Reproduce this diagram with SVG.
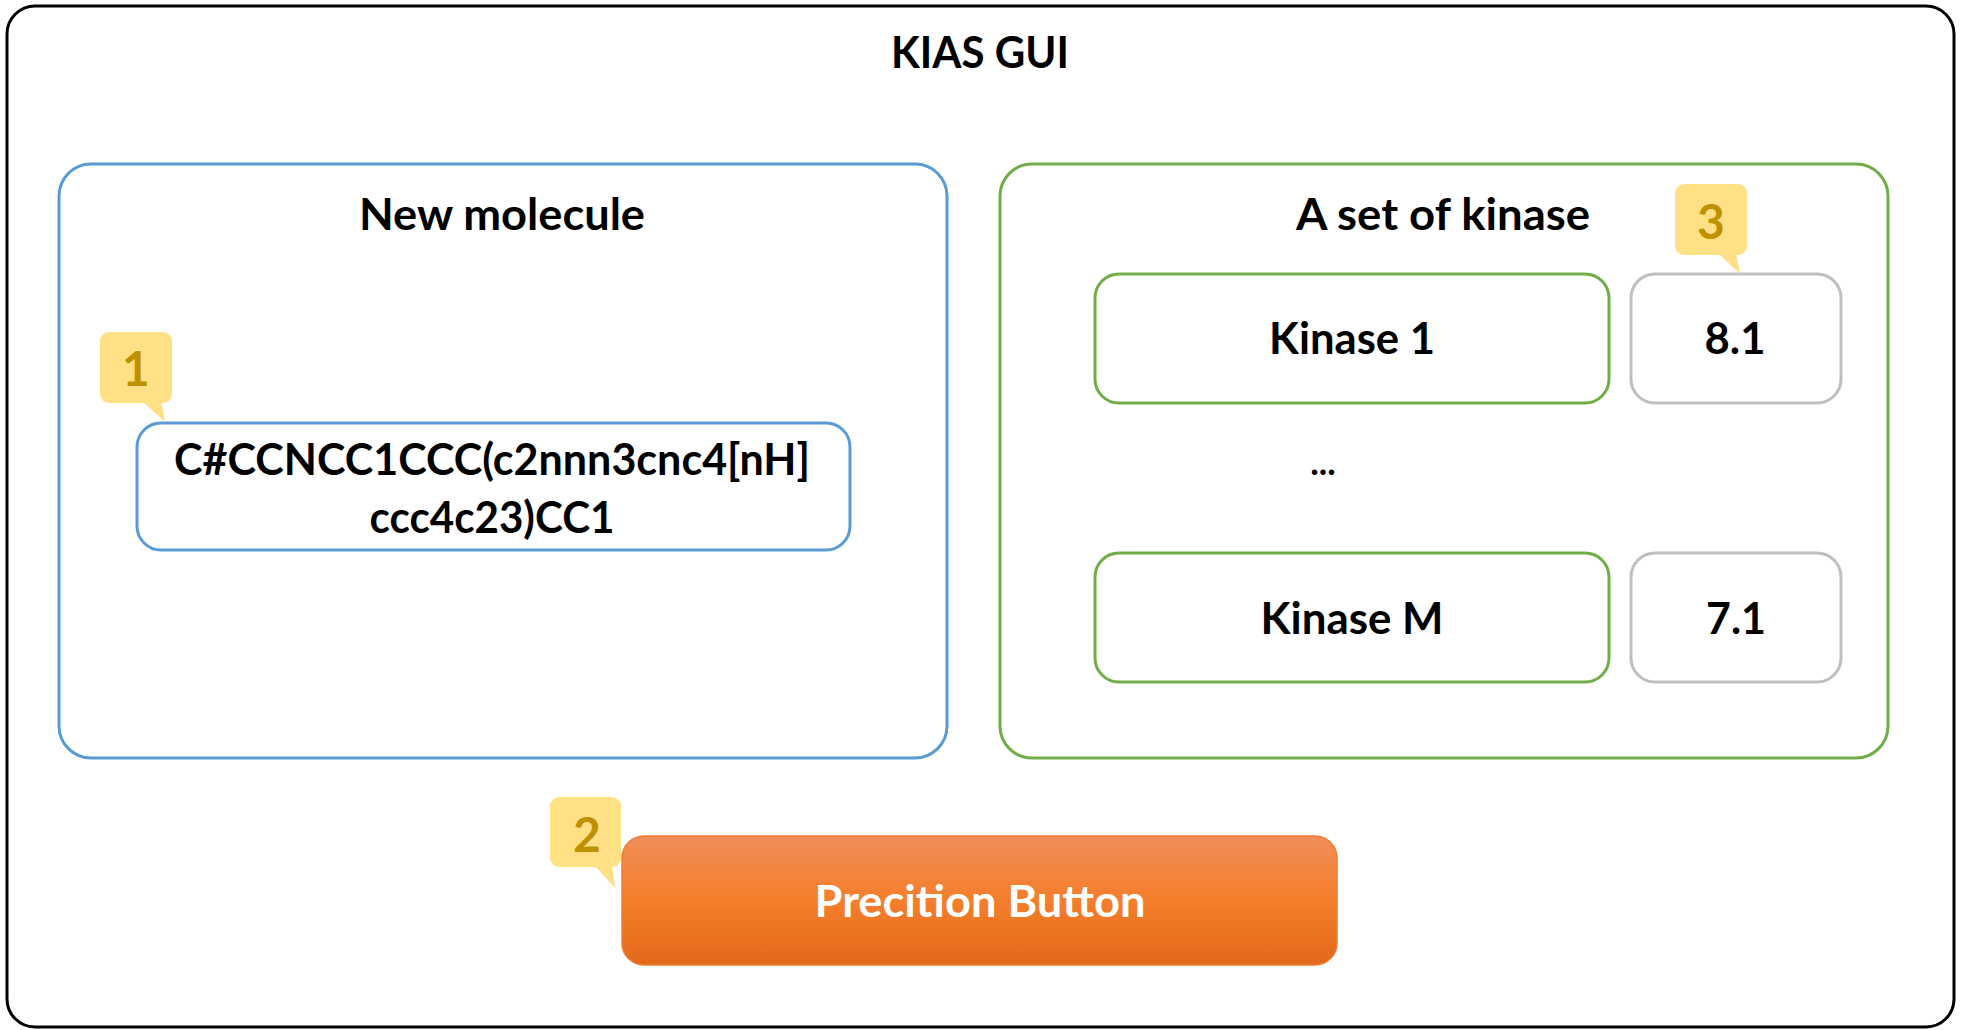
<svg xmlns="http://www.w3.org/2000/svg" width="1963" height="1030" viewBox="0 0 1963 1030">
<defs>
<linearGradient id="btnGrad" x1="0" y1="0" x2="0" y2="1">
<stop offset="0" stop-color="#F18E59"/>
<stop offset="0.5" stop-color="#F47E2B"/>
<stop offset="1" stop-color="#E3691A"/>
</linearGradient>
</defs>
<style>
text{font-family:Lato,"Open Sans","Liberation Sans",sans-serif;font-weight:bold;text-anchor:middle;fill:#000;}
.lbl{font-size:43px;}
.num{font-size:48px;fill:#BF9000;}
.blue{fill:#fff;stroke:#5B9BD5;stroke-width:3;}
.green{fill:#fff;stroke:#70AD47;stroke-width:3;}
.gray{fill:#fff;stroke:#BFBFBF;stroke-width:3;}
.callout{fill:#FFE085;}
</style>
<rect width="1963" height="1030" fill="#fff"/>
<g id="gui">
<rect x="7" y="6" width="1947" height="1021" rx="28" fill="#fff" stroke="#000" stroke-width="3"/>
<text class="lbl" x="980" y="68" textLength="178" lengthAdjust="spacingAndGlyphs">KIAS GUI</text>
</g>
<g id="new-molecule">
<rect class="blue" x="59" y="164" width="888" height="594" rx="32"/>
<text class="lbl" x="502" y="230" textLength="286" lengthAdjust="spacingAndGlyphs">New molecule</text>
</g>
<g id="smiles">
<rect class="blue" x="137" y="423" width="713" height="127" rx="24"/>
<text class="lbl" x="492" y="475" textLength="636" lengthAdjust="spacingAndGlyphs">C#CCNCC1CCC(c2nnn3cnc4[nH]</text>
<text class="lbl" x="492" y="533" textLength="245" lengthAdjust="spacingAndGlyphs">ccc4c23)CC1</text>
</g>
<g id="kinase-set">
<rect class="green" x="1000" y="164" width="888" height="594" rx="32"/>
<text class="lbl" x="1443" y="230" textLength="294" lengthAdjust="spacingAndGlyphs">A set of kinase</text>
<text class="lbl" x="1323" y="475" style="font-size:36px">...</text>
</g>
<g id="kinase-1">
<rect class="green" x="1095" y="274" width="514" height="129" rx="24"/>
<text class="lbl" x="1352" y="354" textLength="166" lengthAdjust="spacingAndGlyphs">Kinase 1</text>
</g>
<g id="score-1">
<rect class="gray" x="1631" y="274" width="210" height="129" rx="24"/>
<text class="lbl" x="1735" y="354" textLength="61" lengthAdjust="spacingAndGlyphs">8.1</text>
</g>
<g id="kinase-m">
<rect class="green" x="1095" y="553" width="514" height="129" rx="24"/>
<text class="lbl" x="1352" y="634" textLength="183" lengthAdjust="spacingAndGlyphs">Kinase M</text>
</g>
<g id="score-m">
<rect class="gray" x="1631" y="553" width="210" height="129" rx="24"/>
<text class="lbl" x="1736" y="634" textLength="60" lengthAdjust="spacingAndGlyphs">7.1</text>
</g>
<g id="button">
<rect x="622" y="836" width="715" height="129" rx="22" fill="url(#btnGrad)" stroke="#ED7D31" stroke-width="1.5"/>
<text class="lbl" x="980" y="917" textLength="331" lengthAdjust="spacingAndGlyphs" style="fill:#fff">Precition Button</text>
</g>
<g id="callout-1">
<rect class="callout" x="100" y="332" width="72" height="71" rx="9"/>
<polygon class="callout" points="142,401 161,401 165,422"/>
<text class="num" x="136" y="386">1</text>
</g>
<g id="callout-2">
<rect class="callout" x="550" y="797" width="71" height="70" rx="9"/>
<polygon class="callout" points="594,865 612,865 615,888"/>
<text class="num" x="587" y="852">2</text>
</g>
<g id="callout-3">
<rect class="callout" x="1675" y="184" width="72" height="71" rx="9"/>
<polygon class="callout" points="1718,253 1736,253 1740,274"/>
<text class="num" x="1711" y="239">3</text>
</g>
</svg>
